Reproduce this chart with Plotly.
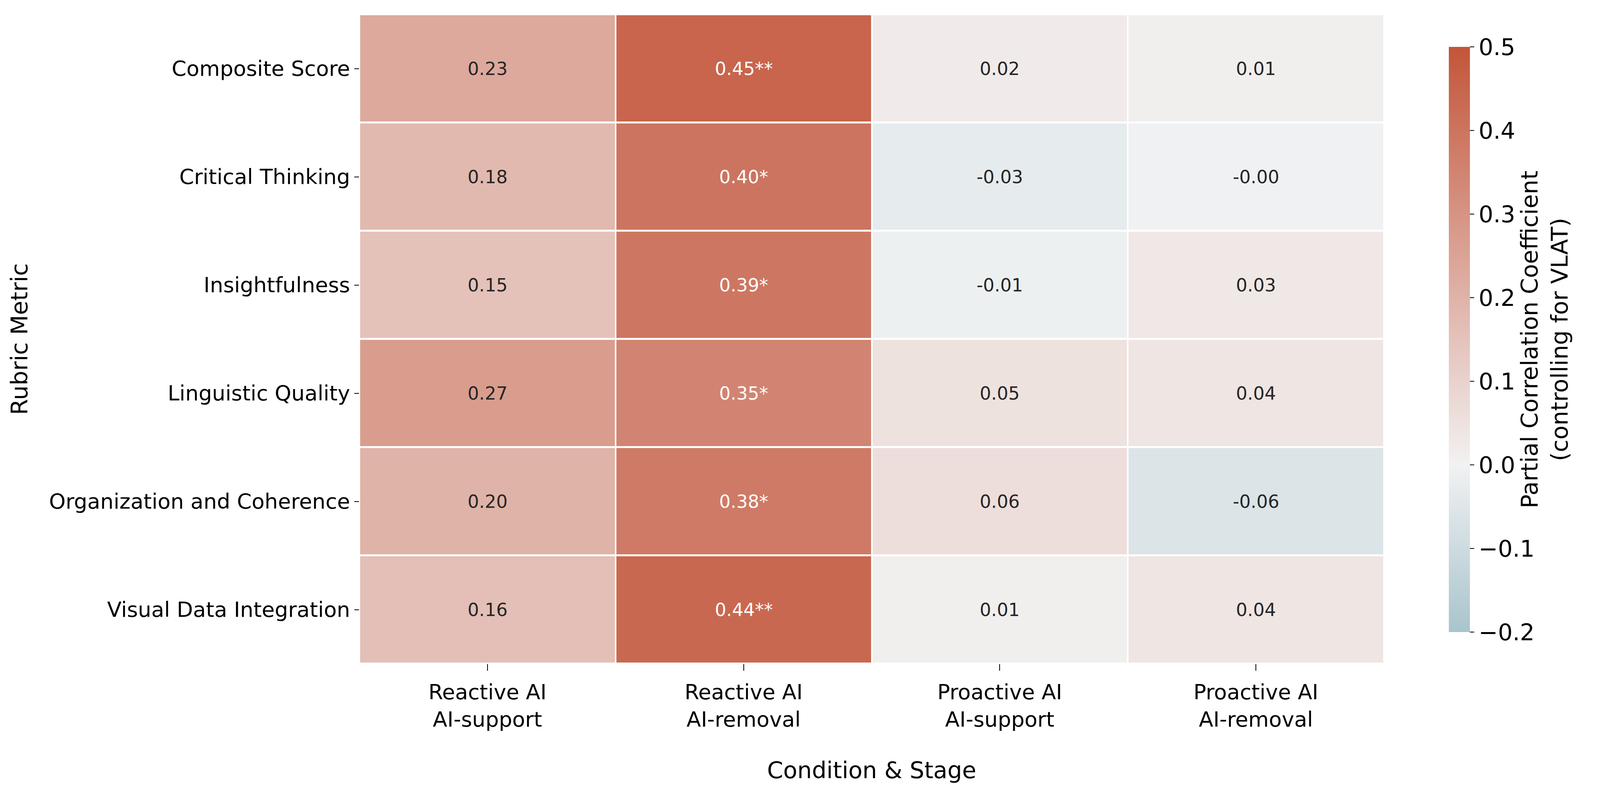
import math
import plotly.graph_objects as go

# ---------------- data ----------------
metrics = [
    "Composite Score",
    "Critical Thinking",
    "Insightfulness",
    "Linguistic Quality",
    "Organization and Coherence",
    "Visual Data Integration",
]
conditions = [
    "Reactive AI<br>AI-support",
    "Reactive AI<br>AI-removal",
    "Proactive AI<br>AI-support",
    "Proactive AI<br>AI-removal",
]
reactive_support = [0.23, 0.18, 0.15, 0.27, 0.20, 0.16]
reactive_removal = [0.45, 0.40, 0.39, 0.35, 0.38, 0.44]
proactive_support = [0.02, -0.03, -0.01, 0.05, 0.06, 0.01]
proactive_removal = [0.01, -0.004, 0.03, 0.04, -0.06, 0.04]

reactive_removal_stars = ["**", "*", "*", "*", "*", "**"]
none_stars = ["", "", "", "", "", ""]

cbar_ticks = [-0.2, -0.1, 0.0, 0.1, 0.2, 0.3, 0.4, 0.5]

columns = [reactive_support, reactive_removal, proactive_support, proactive_removal]
stars = [none_stars, reactive_removal_stars, none_stars, none_stars]

VMIN, VMAX, CENTER = -0.2, 0.5, 0.0

# ---------------- husl (seaborn diverging_palette(220, 20)) ----------------
M = [[3.2406, -1.5372, -0.4986], [-0.9689, 1.8758, 0.0415], [0.0557, -0.2040, 1.0570]]
refU, refV = 0.19784, 0.46834


def max_chroma(L, H):
    hrad = math.radians(H)
    sinH, cosH = math.sin(hrad), math.cos(hrad)
    sub1 = (L + 16) ** 3 / 1560896.0
    sub2 = sub1 if sub1 > 0.008856 else L / 903.3
    res = float("inf")
    for m1, m2, m3 in M:
        top = (0.99915 * m1 + 1.05122 * m2 + 1.14460 * m3) * sub2
        rb = 0.86330 * m3 - 0.17266 * m2
        lb = 0.12949 * m3 - 0.38848 * m1
        bottom = (rb * sinH + lb * cosH) * sub2
        for t in (0.0, 1.0):
            C = L * (top - 1.05122 * t) / (bottom + 0.17266 * sinH * t)
            if 0.0 < C < res:
                res = C
    return res


def husl_to_rgb(h, s, l):
    C = max_chroma(l, h) / 100.0 * s
    U = math.cos(math.radians(h)) * C
    V = math.sin(math.radians(h)) * C
    t = (l + 16.0) / 116.0
    varY = t ** 3 if t ** 3 > 0.008856 else (116.0 * t - 16.0) / 903.3
    varU = U / (13.0 * l) + refU
    varV = V / (13.0 * l) + refV
    Y = varY
    X = -(9.0 * Y * varU) / ((varU - 4.0) * varV - varU * varV)
    Z = (9.0 * Y - 15.0 * varV * Y - varV * X) / (3.0 * varV)
    out = []
    for row in M:
        c = row[0] * X + row[1] * Y + row[2] * Z
        c = 12.92 * c if c <= 0.0031308 else 1.055 * c ** (1 / 2.4) - 0.055
        out.append(min(1.0, max(0.0, c)))
    return out


neg = husl_to_rgb(220, 75, 50)
neg_gray = husl_to_rgb(220, 75 * 0.15, 95)
mid = [0.95, 0.95, 0.95]
pos_gray = husl_to_rgb(20, 75 * 0.15, 95)
pos = husl_to_rgb(20, 75, 50)
full_pts = [(0.0, neg), (127 / 256, neg_gray), (0.5, mid), (129 / 256, pos_gray), (1.0, pos)]


def full_cmap(f):
    for (f0, c0), (f1, c1) in zip(full_pts[:-1], full_pts[1:]):
        if f <= f1:
            a = (f - f0) / (f1 - f0) if f1 > f0 else 0
            return [c0[i] + a * (c1[i] - c0[i]) for i in range(3)]
    return full_pts[-1][1]


vrange = max(VMAX - CENTER, CENTER - VMIN)
fmin = (VMIN - (CENTER - vrange)) / (2 * vrange)
fmax = (VMAX - (CENTER - vrange)) / (2 * vrange)


def to_hex(c):
    return "#%02x%02x%02x" % tuple(int(round(x * 255)) for x in c)


colorscale = [[0.0, to_hex(full_cmap(fmin))]]
for f, _ in full_pts:
    if fmin < f < fmax:
        colorscale.append([(f - fmin) / (fmax - fmin), to_hex(full_cmap(f))])
colorscale.append([1.0, to_hex(full_cmap(fmax))])


def value_color(v):
    v = min(VMAX, max(VMIN, v))
    f = fmin + (v - VMIN) / (VMAX - VMIN) * (fmax - fmin)
    return full_cmap(f)


def lum(c):
    lin = [x / 12.92 if x <= 0.03928 else ((x + 0.055) / 1.055) ** 2.4 for x in c]
    return 0.2126 * lin[0] + 0.7152 * lin[1] + 0.0722 * lin[2]


# ---------------- layout geometry ----------------
# The page is photographed in a 4096 px wide viewport; the reference layout
# (5728 px wide) is scaled horizontally to fit.
W, H = 4096, 2053
S = W / 5728.0
PL, PR = round(1275 * S), round(4943 * S)
PT, PB = 29, 1691
CB_LEFT = 5175 * S

FONT = "DejaVu Sans"
F_TICK = round(76 * S)
F_ANN = round(64 * S)
F_TITLE = round(83 * S)

z = [[columns[j][i] for j in range(len(conditions))] for i in range(len(metrics))]

fig = go.Figure(
    go.Heatmap(
        z=z,
        x=conditions,
        y=metrics,
        zmin=VMIN,
        zmax=VMAX,
        colorscale=colorscale,
        xgap=4,
        ygap=5,
        hoverinfo="skip",
        colorbar=dict(
            x=(CB_LEFT - PL) / (PR - PL),
            xanchor="left",
            xpad=0,
            y=((PB - PT) - ((112 + 1610) / 2 - PT)) / (PB - PT),
            yanchor="middle",
            ypad=0,
            len=(1610 - 112) / (PB - PT),
            lenmode="fraction",
            thickness=round(75 * S),
            thicknessmode="pixels",
            outlinewidth=0,
            ticks="outside",
            ticklen=11,
            tickwidth=2,
            tickcolor="black",
            tickvals=cbar_ticks,
            ticktext=[("\u2212%.1f" % abs(t)) if t < 0 else "%.1f" % t for t in cbar_ticks],
            tickfont=dict(family=FONT, size=F_TITLE, color="black"),
            title=dict(
                text="Partial Correlation Coefficient<br>(controlling for VLAT)",
                side="right",
                font=dict(family=FONT, size=F_TITLE, color="black"),
            ),
        ),
    )
)

for j, cond in enumerate(conditions):
    for i, met in enumerate(metrics):
        v = columns[j][i]
        txt = "%.2f%s" % (v, stars[j][i])
        col = "#262626" if lum(value_color(v)) > 0.408 else "#ffffff"
        fig.add_annotation(
            x=cond, y=met, text=txt, showarrow=False,
            font=dict(family=FONT, size=F_ANN, color=col),
        )

fig.update_layout(
    width=W,
    height=H,
    margin=dict(l=PL, r=W - PR, t=PT, b=H - PB, autoexpand=False),
    paper_bgcolor="white",
    plot_bgcolor="white",
    font=dict(family=FONT, color="black"),
    xaxis=dict(
        showgrid=False, zeroline=False, showline=False,
        ticks="outside", ticklen=17, tickwidth=2, tickcolor="black",
        ticklabelstandoff=8,
        tickfont=dict(family=FONT, size=F_TICK, color="black"),
        title=dict(text="Condition & Stage", font=dict(family=FONT, size=F_TITLE, color="black"), standoff=78),
        automargin=False,
    ),
    yaxis=dict(
        showgrid=False, zeroline=False, showline=False,
        autorange="reversed",
        ticks="outside", ticklen=12, tickwidth=2, tickcolor="black",
        tickfont=dict(family=FONT, size=F_TICK, color="black"),
        title=dict(text="Rubric Metric", font=dict(family=FONT, size=F_TITLE, color="black"), standoff=35),
        automargin=False,
    ),
)

fig.write_html("out.html")
